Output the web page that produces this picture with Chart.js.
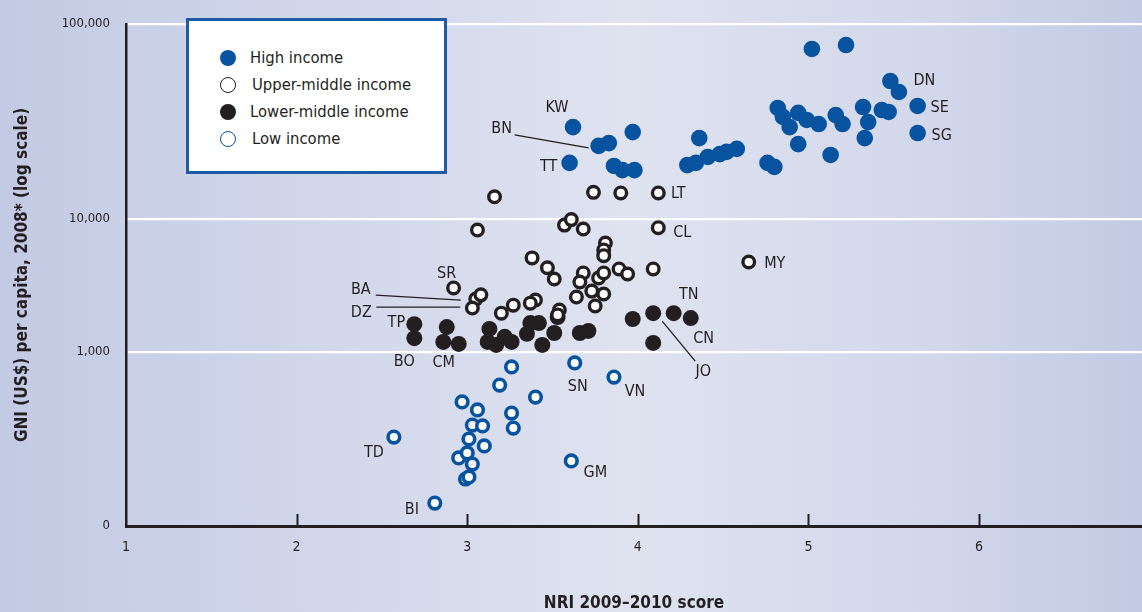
<!DOCTYPE html>
<html>
<head>
<meta charset="utf-8">
<script src="https://cdn.jsdelivr.net/npm/chart.js@4.4.1/dist/chart.umd.min.js"></script>
<style>
  body { margin: 0; }
  #wrap {
    position: relative; width: 1142px; height: 612px; overflow: hidden;
    background: linear-gradient(to right, #c3cae3 0%, #ccd2e8 18%, #dfe3f0 55%, #d3d8eb 80%, #c3cae3 100%);
  }
  #chart { position: absolute; left: 0; top: 0; }
  #legend {
    position: absolute; left: 186px; top: 18px; width: 255px; height: 150px;
    background: #fff; border: 3px solid #1d5ba4;
    font-family: 'Liberation Sans Narrow', 'DejaVu Sans Condensed', 'Liberation Sans', sans-serif;
    font-size: 16.5px; color: #231f20;
  }
  .row { position: absolute; left: 0; height: 24px; line-height: 24px; white-space: nowrap; }
  .dot { position: absolute; left: 31px; top: 4px; width: 16px; height: 16px; border-radius: 50%; box-sizing: border-box; }
  .txt { position: absolute; left: 61px; top: 0; }
</style>
</head>
<body>
<div id="wrap">
  <canvas id="chart" width="1142" height="612"></canvas>
  <div id="legend"></div>
</div>
<script>
const fontFam = "'Liberation Sans Narrow', 'DejaVu Sans Condensed', 'Liberation Sans', sans-serif";
const ink = '#231f20';
const blue = '#07539f';

const seriesNames = ['High income', 'Upper-middle income', 'Lower-middle income', 'Low income'];

// NRI score (x) and GNI per capita in US$ (y), one pair of arrays per income group
const highNri = [5.02, 5.22, 5.48, 5.53, 5.64, 5.64, 4.82, 4.85, 4.89, 4.94, 4.99, 5.06, 5.16, 5.20, 5.32, 5.35, 5.43, 5.47, 5.33,
  4.94, 5.13, 4.36, 4.29, 4.34, 4.41, 4.48, 4.52, 4.58, 4.76, 4.80, 3.62, 3.77, 3.83, 3.97, 3.60, 3.86, 3.91, 3.98];
const highGni = [74500, 78000, 51000, 44800, 38000, 27600, 37100, 33400, 29600, 35000, 32200, 30700, 34100, 30700, 37500, 31400, 36200, 35400, 26000,
  24200, 21300, 26000, 18900, 19400, 20800, 21500, 22100, 22900, 19400, 18500, 29600, 23700, 24500, 27900, 19400, 18700, 17800, 17800];

const upperNri = [3.16, 3.74, 3.90, 4.12, 3.06, 3.57, 3.61, 3.68, 4.12, 3.81, 3.80, 3.80, 3.38, 3.47, 3.51, 3.68, 3.66, 3.77, 3.80,
  3.89, 3.94, 4.09, 3.73, 3.80, 3.64, 3.75, 3.40, 3.37, 3.54, 3.53, 3.20, 3.27, 3.05, 3.08, 3.03, 2.92, 4.65];
const upperGni = [13000, 13700, 13600, 13600, 8260, 9000, 9900, 8400, 8600, 6600, 5850, 5300, 5100, 4300, 3540, 3930, 3360, 3600, 3930,
  4210, 3860, 4210, 2870, 2730, 2590, 2220, 2460, 2330, 2070, 1900, 1960, 2250, 2500, 2690, 2140, 3030, 4750];

const lowerNri = [2.69, 2.69, 2.88, 2.86, 2.95, 3.13, 3.12, 3.17, 3.22, 3.26, 3.37, 3.42, 3.35, 3.44, 3.51, 3.53, 3.66, 3.71,
  3.97, 4.09, 4.21, 4.31, 4.09];
const lowerGni = [1620, 1270, 1540, 1190, 1150, 1490, 1190, 1130, 1300, 1190, 1650, 1650, 1370, 1130, 1390, 1830, 1390, 1440,
  1770, 1960, 1960, 1800, 1170];

const lowNri = [3.26, 3.19, 2.97, 3.06, 3.03, 3.09, 3.01, 3.10, 2.95, 3.00, 3.03, 2.99, 3.01, 3.26, 3.27, 3.40, 3.63, 3.86, 3.61, 2.57, 2.81];
const lowGni = [914, 810, 713, 667, 580, 575, 500, 460, 391, 420, 356, 270, 282, 649, 563, 741, 937, 856, 374, 511, 132];

const xTicks = [1, 2, 3, 4, 5, 6];
const yTicks = [0, 1000, 10000, 100000];

// country tags: dataset, point, text offset and optional leader line (pixels from the point)
const countryTags = [
  { code: 'KW', set: 0, idx: 30, dx: -16, dy: -19 },
  { code: 'BN', set: 0, idx: 31, dx: -97, dy: -17, line: [-84, -11, -10, 2] },
  { code: 'TT', set: 0, idx: 34, dx: -21, dy: 4 },
  { code: 'DN', set: 0, idx: 2, dx: 34, dy: 0 },
  { code: 'SE', set: 0, idx: 4, dx: 22, dy: 2 },
  { code: 'SG', set: 0, idx: 5, dx: 24, dy: 3 },
  { code: 'LT', set: 1, idx: 3, dx: 20, dy: 1 },
  { code: 'CL', set: 1, idx: 8, dx: 24, dy: 5 },
  { code: 'MY', set: 1, idx: 36, dx: 26, dy: 2 },
  { code: 'SR', set: 1, idx: 35, dx: -7, dy: -14 },
  { code: 'BA', set: 1, idx: 32, dx: -115, dy: -9, line: [-100, -4, -15, 1] },
  { code: 'DZ', set: 1, idx: 34, dx: -111, dy: 5, line: [-96, -1, -12, -1] },
  { code: 'TP', set: 2, idx: 0, dx: -18, dy: -1 },
  { code: 'BO', set: 2, idx: 1, dx: -10, dy: 24 },
  { code: 'CM', set: 2, idx: 4, dx: -15, dy: 19 },
  { code: 'TN', set: 2, idx: 20, dx: 15, dy: -18 },
  { code: 'CN', set: 2, idx: 21, dx: 13, dy: 21 },
  { code: 'JO', set: 2, idx: 19, dx: 50, dy: 59, line: [9, 8, 42, 48] },
  { code: 'SN', set: 3, idx: 16, dx: 3, dy: 24 },
  { code: 'VN', set: 3, idx: 17, dx: 21, dy: 15 },
  { code: 'GM', set: 3, idx: 18, dx: 24, dy: 12 },
  { code: 'TD', set: 3, idx: 19, dx: -20, dy: 16 },
  { code: 'BI', set: 3, idx: 20, dx: -23, dy: 7 }
];

// the printed axis is linear up to 1,000 and then log per decade, with uneven decade heights
const bandPx = [174, 133, 195];

const LinearBase = Chart.LinearScale || Chart.registry.getScale('linear');
class GniScale extends LinearBase {
  determineDataLimits() {
    this.min = yTicks[0];
    this.max = yTicks[yTicks.length - 1];
  }
  buildTicks() {
    return yTicks.map(v => ({ value: v }));
  }
  getPixelForValue(value) {
    const total = bandPx[0] + bandPx[1] + bandPx[2];
    let f;
    if (value <= 1000) f = bandPx[0] * Math.max(value, 0) / 1000;
    else if (value <= 10000) f = bandPx[0] + bandPx[1] * Math.log10(value / 1000);
    else f = bandPx[0] + bandPx[1] + bandPx[2] * Math.log10(value / 10000);
    return this.getPixelForDecimal(f / total);
  }
  getValueForPixel(pixel) {
    const total = bandPx[0] + bandPx[1] + bandPx[2];
    const f = this.getDecimalForPixel(pixel) * total;
    if (f <= bandPx[0]) return f / bandPx[0] * 1000;
    if (f <= bandPx[0] + bandPx[1]) return 1000 * Math.pow(10, (f - bandPx[0]) / bandPx[1]);
    return 10000 * Math.pow(10, (f - bandPx[0] - bandPx[1]) / bandPx[2]);
  }
}
GniScale.id = 'gni';
GniScale.defaults = {};
Chart.register(GniScale);

const pairs = (xs, ys) => xs.map((x, i) => ({ x: x, y: ys[i] }));

const datasets = [
  { label: seriesNames[0], data: pairs(highNri, highGni), backgroundColor: blue, borderColor: blue, borderWidth: 0, pointRadius: 8.3 },
  { label: seriesNames[1], data: pairs(upperNri, upperGni), backgroundColor: '#ffffff', borderColor: ink, borderWidth: 3.4, pointRadius: 5.8 },
  { label: seriesNames[2], data: pairs(lowerNri, lowerGni), backgroundColor: ink, borderColor: ink, borderWidth: 0, pointRadius: 8 },
  { label: seriesNames[3], data: pairs(lowNri, lowGni), backgroundColor: '#ffffff', borderColor: blue, borderWidth: 3.6, pointRadius: 5.8 }
];
datasets.forEach(d => { d.clip = false; d.pointHoverRadius = d.pointRadius; });

// legend box (HTML), built from the dataset styles
const legendEl = document.getElementById('legend');
const rowTops = [25, 52, 79, 106];
const textShift = [0, 2, 0, 2];
datasets.forEach((d, i) => {
  const row = document.createElement('div');
  row.className = 'row';
  row.style.top = rowTops[i] + 'px';
  const dot = document.createElement('span');
  dot.className = 'dot';
  dot.style.background = d.backgroundColor;
  dot.style.border = d.borderWidth ? '1.5px solid ' + d.borderColor : 'none';
  const txt = document.createElement('span');
  txt.className = 'txt';
  txt.style.left = (61 + textShift[i]) + 'px';
  txt.textContent = d.label;
  row.appendChild(dot);
  row.appendChild(txt);
  legendEl.appendChild(row);
});

const tagPlugin = {
  id: 'tags',
  afterDatasetsDraw(chart) {
    const ctx = chart.ctx;
    const xs = chart.scales.x;
    const ys = chart.scales.y;
    ctx.save();
    // short tick marks standing on the x axis
    ctx.strokeStyle = ink;
    ctx.lineWidth = 2;
    xs.ticks.forEach(t => {
      if (t.value === xs.min) return;
      const px = Math.round(xs.getPixelForValue(t.value)) + 0.5;
      ctx.beginPath();
      ctx.moveTo(px, ys.bottom);
      ctx.lineTo(px, ys.bottom - 12);
      ctx.stroke();
    });
    ctx.font = '16px ' + fontFam;
    ctx.fillStyle = ink;
    ctx.textAlign = 'center';
    ctx.textBaseline = 'middle';
    ctx.lineWidth = 1.3;
    countryTags.forEach(tag => {
      const pt = chart.getDatasetMeta(tag.set).data[tag.idx];
      if (!pt) return;
      ctx.fillText(tag.code, pt.x + tag.dx, pt.y + tag.dy);
      if (tag.line) {
        ctx.beginPath();
        ctx.moveTo(pt.x + tag.line[0], pt.y + tag.line[1]);
        ctx.lineTo(pt.x + tag.line[2], pt.y + tag.line[3]);
        ctx.stroke();
      }
    });
    ctx.restore();
  }
};

Chart.defaults.font.family = fontFam;
Chart.defaults.color = ink;

new Chart(document.getElementById('chart'), {
  type: 'scatter',
  data: { datasets: datasets },
  options: {
    responsive: false,
    animation: false,
    events: [],
    layout: { autoPadding: false, padding: { top: 24, right: 0, bottom: 0, left: 0 } },
    plugins: {
      legend: { display: false },
      tooltip: { enabled: false }
    },
    scales: {
      x: {
        type: 'linear',
        min: 1,
        max: 6.955,
        afterBuildTicks: s => { s.ticks = xTicks.map(v => ({ value: v })); },
        afterFit: s => { s.height = 86; },
        grid: { display: false, drawTicks: false },
        border: { display: true, color: ink, width: 3 },
        ticks: { padding: 13, font: { size: 14 }, color: ink, callback: v => String(v) },
        title: {
          display: true, text: 'NRI 2009–2010 score', color: ink,
          font: { size: 17, weight: 'bold', lineHeight: 1 }, padding: { top: 0, bottom: 0 }
        }
      },
      y: {
        type: 'gni',
        position: 'left',
        afterFit: s => { s.width = 126; },
        grid: {
          drawTicks: false,
          lineWidth: 2.2,
          color: c => (c.tick && c.tick.value === 0) ? 'rgba(0,0,0,0)' : '#ffffff'
        },
        border: { display: true, color: ink, width: 2.5 },
        ticks: { padding: 16, font: { size: 13 }, color: ink, callback: v => Number(v).toLocaleString('en-US') },
        title: {
          display: true, text: 'GNI (US$) per capita, 2008* (log scale)', color: ink,
          font: { size: 17, weight: 'bold', lineHeight: 1 }, padding: { top: 14, bottom: 0 }
        }
      }
    }
  },
  plugins: [tagPlugin]
});
</script>
</body>
</html>
